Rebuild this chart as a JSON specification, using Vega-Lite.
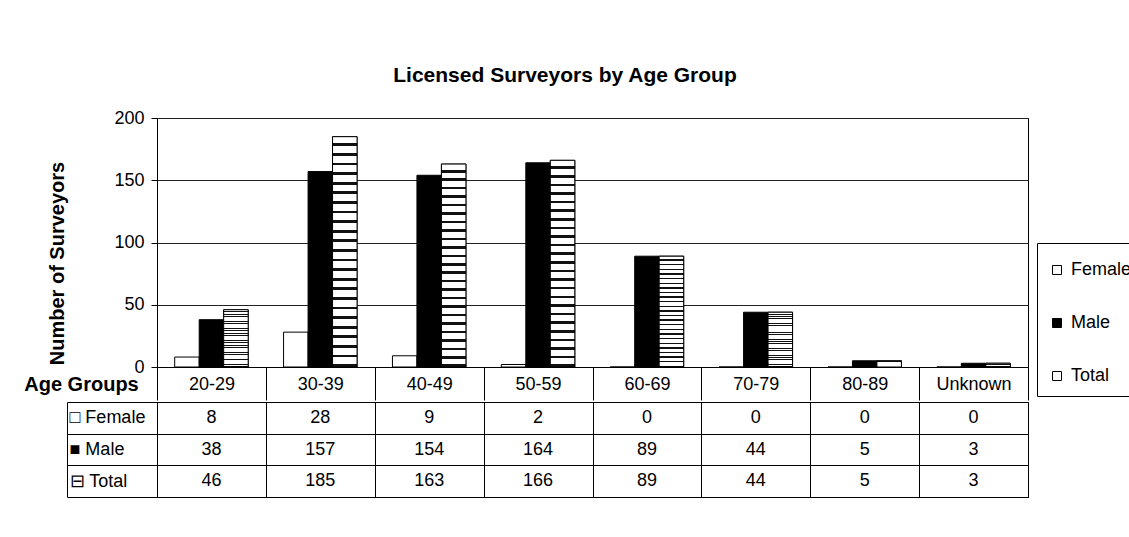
{
  "$schema": "https://vega.github.io/schema/vega-lite/v6.json",
  "background": "white",
  "padding": {"left": 23, "top": 64, "right": 5, "bottom": 5},
  "config": {
    "font": "Liberation Sans",
    "view": {"stroke": "black", "strokeWidth": 1},
    "axis": {"labelColor": "black", "titleColor": "black", "domainColor": "black", "tickColor": "black"}
  },
  "title": {"text": "Licensed Surveyors by Age Group", "fontSize": 21, "fontWeight": "bold", "anchor": "start", "dx": 370, "offset": 23, "color": "black"},
  "datasets": {
    "d": [
      {"age": "20-29", "series": "Female", "value": 8},
      {"age": "30-39", "series": "Female", "value": 28},
      {"age": "40-49", "series": "Female", "value": 9},
      {"age": "50-59", "series": "Female", "value": 2},
      {"age": "60-69", "series": "Female", "value": 0},
      {"age": "70-79", "series": "Female", "value": 0},
      {"age": "80-89", "series": "Female", "value": 0},
      {"age": "Unknown", "series": "Female", "value": 0},
      {"age": "20-29", "series": "Male", "value": 38},
      {"age": "30-39", "series": "Male", "value": 157},
      {"age": "40-49", "series": "Male", "value": 154},
      {"age": "50-59", "series": "Male", "value": 164},
      {"age": "60-69", "series": "Male", "value": 89},
      {"age": "70-79", "series": "Male", "value": 44},
      {"age": "80-89", "series": "Male", "value": 5},
      {"age": "Unknown", "series": "Male", "value": 3},
      {"age": "20-29", "series": "Total", "value": 46},
      {"age": "30-39", "series": "Total", "value": 185},
      {"age": "40-49", "series": "Total", "value": 163},
      {"age": "50-59", "series": "Total", "value": 166},
      {"age": "60-69", "series": "Total", "value": 89},
      {"age": "70-79", "series": "Total", "value": 44},
      {"age": "80-89", "series": "Total", "value": 5},
      {"age": "Unknown", "series": "Total", "value": 3}
    ]
  },
  "spacing": 0,
  "vconcat": [
    {
      "width": 871,
      "height": 249,
      "data": {"name": "d"},
      "encoding": {
        "x": {
          "field": "age", "type": "nominal",
          "sort": ["20-29", "30-39", "40-49", "50-59", "60-69", "70-79", "80-89", "Unknown"],
          "scale": {"paddingInner": 0, "paddingOuter": 0},
          "axis": {
            "title": "Age Groups", "titleFontSize": 20, "titleFontWeight": "bold",
            "titleX": -76, "titleY": 17, "titleAlign": "center", "titleBaseline": "middle",
            "labelAngle": 0, "labelFontSize": 18, "labelPadding": -25,
            "tickBand": "extent", "tickSize": 33
          }
        },
        "xOffset": {
          "field": "series", "type": "nominal",
          "scale": {"domain": ["Female", "Male", "Total"], "paddingInner": 0, "paddingOuter": 0.722}
        },
        "y": {
          "field": "value", "type": "quantitative",
          "scale": {"domain": [0, 200]},
          "axis": {
            "title": "Number of Surveyors", "titleFontSize": 20, "titleFontWeight": "bold",
            "titleX": -100, "titleY": 145, "titleAlign": "center", "titleBaseline": "middle", "titleAngle": -90,
            "values": [0, 50, 100, 150, 200], "labelFontSize": 18, "labelPadding": 7, "tickSize": 6,
            "grid": true, "gridColor": "#222", "gridOpacity": 1
          }
        }
      },
      "layer": [
        {
          "mark": {"type": "bar", "stroke": "black", "strokeWidth": 1},
          "encoding": {
            "fill": {
              "field": "series", "type": "nominal",
              "scale": {"domain": ["Female", "Male", "Total"], "range": ["white", "black", "white"]},
              "legend": {
                "title": " ", "titleFontSize": 7, "titlePadding": 0,
                "orient": "none", "legendX": 880, "legendY": 125,
                "strokeColor": "black", "fillColor": "white", "padding": 11,
                "rowPadding": 35, "symbolType": "square", "symbolSize": 81,
                "symbolStrokeColor": "black", "symbolStrokeWidth": 1,
                "labelFontSize": 18, "labelColor": "black", "labelOffset": 5
              }
            }
          }
        },
        {
          "transform": [{"filter": "datum.series === 'Total'"}],
          "mark": {
            "type": "bar", "stroke": "black", "strokeWidth": 1,
            "fill": {
              "gradient": "linear", "x1": 0, "y1": 0, "x2": 0, "y2": 1,
              "stops": [
                {"offset": 0, "color": "white"},
                {"offset": 0.0292, "color": "white"}, {"offset": 0.0292, "color": "#111"}, {"offset": 0.0417, "color": "#111"}, {"offset": 0.0417, "color": "white"},
                {"offset": 0.0708, "color": "white"}, {"offset": 0.0708, "color": "#111"}, {"offset": 0.0833, "color": "#111"}, {"offset": 0.0833, "color": "white"},
                {"offset": 0.1125, "color": "white"}, {"offset": 0.1125, "color": "#111"}, {"offset": 0.125, "color": "#111"}, {"offset": 0.125, "color": "white"},
                {"offset": 0.1542, "color": "white"}, {"offset": 0.1542, "color": "#111"}, {"offset": 0.1667, "color": "#111"}, {"offset": 0.1667, "color": "white"},
                {"offset": 0.1958, "color": "white"}, {"offset": 0.1958, "color": "#111"}, {"offset": 0.2083, "color": "#111"}, {"offset": 0.2083, "color": "white"},
                {"offset": 0.2375, "color": "white"}, {"offset": 0.2375, "color": "#111"}, {"offset": 0.25, "color": "#111"}, {"offset": 0.25, "color": "white"},
                {"offset": 0.2792, "color": "white"}, {"offset": 0.2792, "color": "#111"}, {"offset": 0.2917, "color": "#111"}, {"offset": 0.2917, "color": "white"},
                {"offset": 0.3208, "color": "white"}, {"offset": 0.3208, "color": "#111"}, {"offset": 0.3333, "color": "#111"}, {"offset": 0.3333, "color": "white"},
                {"offset": 0.3625, "color": "white"}, {"offset": 0.3625, "color": "#111"}, {"offset": 0.375, "color": "#111"}, {"offset": 0.375, "color": "white"},
                {"offset": 0.4042, "color": "white"}, {"offset": 0.4042, "color": "#111"}, {"offset": 0.4167, "color": "#111"}, {"offset": 0.4167, "color": "white"},
                {"offset": 0.4458, "color": "white"}, {"offset": 0.4458, "color": "#111"}, {"offset": 0.4583, "color": "#111"}, {"offset": 0.4583, "color": "white"},
                {"offset": 0.4875, "color": "white"}, {"offset": 0.4875, "color": "#111"}, {"offset": 0.5, "color": "#111"}, {"offset": 0.5, "color": "white"},
                {"offset": 0.5292, "color": "white"}, {"offset": 0.5292, "color": "#111"}, {"offset": 0.5417, "color": "#111"}, {"offset": 0.5417, "color": "white"},
                {"offset": 0.5708, "color": "white"}, {"offset": 0.5708, "color": "#111"}, {"offset": 0.5833, "color": "#111"}, {"offset": 0.5833, "color": "white"},
                {"offset": 0.6125, "color": "white"}, {"offset": 0.6125, "color": "#111"}, {"offset": 0.625, "color": "#111"}, {"offset": 0.625, "color": "white"},
                {"offset": 0.6542, "color": "white"}, {"offset": 0.6542, "color": "#111"}, {"offset": 0.6667, "color": "#111"}, {"offset": 0.6667, "color": "white"},
                {"offset": 0.6958, "color": "white"}, {"offset": 0.6958, "color": "#111"}, {"offset": 0.7083, "color": "#111"}, {"offset": 0.7083, "color": "white"},
                {"offset": 0.7375, "color": "white"}, {"offset": 0.7375, "color": "#111"}, {"offset": 0.75, "color": "#111"}, {"offset": 0.75, "color": "white"},
                {"offset": 0.7792, "color": "white"}, {"offset": 0.7792, "color": "#111"}, {"offset": 0.7917, "color": "#111"}, {"offset": 0.7917, "color": "white"},
                {"offset": 0.8208, "color": "white"}, {"offset": 0.8208, "color": "#111"}, {"offset": 0.8333, "color": "#111"}, {"offset": 0.8333, "color": "white"},
                {"offset": 0.8625, "color": "white"}, {"offset": 0.8625, "color": "#111"}, {"offset": 0.875, "color": "#111"}, {"offset": 0.875, "color": "white"},
                {"offset": 0.9042, "color": "white"}, {"offset": 0.9042, "color": "#111"}, {"offset": 0.9167, "color": "#111"}, {"offset": 0.9167, "color": "white"},
                {"offset": 0.9458, "color": "white"}, {"offset": 0.9458, "color": "#111"}, {"offset": 0.9583, "color": "#111"}, {"offset": 0.9583, "color": "white"},
                {"offset": 0.9875, "color": "white"}, {"offset": 0.9875, "color": "#111"}, {"offset": 1, "color": "#111"}
              ]
            }
          }
        }
      ]
    },
    {
      "width": 871,
      "height": 95,
      "data": {"name": "d"},
      "mark": {"type": "text", "fontSize": 18, "color": "black"},
      "encoding": {
        "x": {
          "field": "age", "type": "nominal",
          "sort": ["20-29", "30-39", "40-49", "50-59", "60-69", "70-79", "80-89", "Unknown"],
          "scale": {"paddingInner": 0, "paddingOuter": 0},
          "axis": {"title": null, "labels": false, "ticks": false, "domain": false, "grid": true, "gridColor": "black", "gridOpacity": 1, "tickBand": "extent"}
        },
        "y": {
          "field": "series", "type": "nominal",
          "sort": ["Female", "Male", "Total"],
          "scale": {"paddingInner": 0, "paddingOuter": 0},
          "axis": {
            "title": null, "offset": 90, "domain": true, "ticks": true, "tickSize": -90,
            "tickBand": "extent", "grid": true, "gridColor": "black", "gridOpacity": 1,
            "labelAlign": "left", "labelPadding": 88,
            "labelFontSize": {"condition": {"test": "indexof(['Female', 'Male', 'Total'], datum.label) < 0", "value": 0}, "value": 18},
            "labelExpr": "datum.label === 'Female' ? '□ Female' : datum.label === 'Male' ? '■ Male' : datum.label === 'Total' ? '⊟ Total' : ''"
          }
        },
        "text": {"field": "value", "type": "quantitative"}
      }
    }
  ]
}
